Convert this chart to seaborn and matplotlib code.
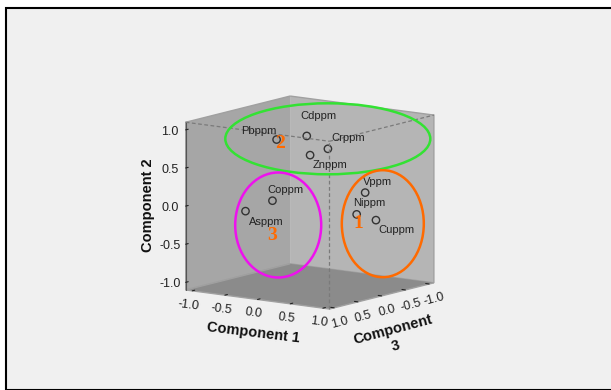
import numpy as np
import pandas as pd
import matplotlib
matplotlib.use("Agg")
import matplotlib.pyplot as plt
import seaborn as sns
from matplotlib.patches import Ellipse, Rectangle
from matplotlib.ticker import FixedLocator, FormatStrFormatter
from mpl_toolkits.mplot3d import proj3d

# component loadings (estimated)
variables = ['Pbppm', 'Cdppm', 'Crppm', 'Znppm', 'Coppm', 'Asppm', 'Vppm', 'Nippm', 'Cuppm']
comp1 = [-0.29, -0.01, 0.35, 0.15, 0.01, -0.33, 0.92, 0.79, 0.94]
comp2 = [0.84, 0.88, 0.76, 0.67, 0.15, -0.01, 0.25, -0.05, -0.14]
comp3 = [0.30, 0.05, 0.10, 0.20, 0.80, 0.90, 0.10, 0.10, -0.10]
group_names = ['1', '2', '3']

df = pd.DataFrame({'var': variables, 'c1': comp1, 'c2': comp2, 'c3': comp3})

# label offsets in pixels (dx right, dy up)
label_offset = {
    'Pbppm': (-18, 9), 'Cdppm': (12, 20), 'Crppm': (20, 11), 'Znppm': (20, -10),
    'Coppm': (13, 11), 'Asppm': (21, -11), 'Vppm': (12, 11), 'Nippm': (13, 11),
    'Cuppm': (20, -10),
}

sns.set_style("white")
plt.rcParams['font.family'] = ['Liberation Sans', 'DejaVu Sans']
plt.rcParams['axes.unicode_minus'] = False

W, H = 611, 390
fig = plt.figure(figsize=(W / 100, H / 100), dpi=100, facecolor='white')
# grey chart area with black frame on top/left
fig.add_artist(Rectangle((6 / W, 0), 1, 1 - 8 / H, transform=fig.transFigure,
                         facecolor='#f0f0f0', edgecolor='black', lw=1.5, zorder=-10))

size = 0.756
ax = fig.add_axes([0.5005 - size / 2, 0.4705 - size / 2, size, size], projection='3d')
ax.patch.set_alpha(0)
ax.set_proj_type('ortho')
ax.view_init(elev=10.5, azim=36)
ax.set_box_aspect((1, 1, 0.96))

lim = (-1.1, 1.1)
ax.set_xlim(lim)
ax.set_ylim(lim)
ax.set_zlim(lim)

ax.xaxis.set_pane_color('#b5b5b5')
ax.yaxis.set_pane_color('#a6a6a6')
ax.zaxis.set_pane_color('#8b8b8b')
for a in (ax.xaxis, ax.yaxis, ax.zaxis):
    a.pane.set_edgecolor('#a0a0a0')
    a.set_major_locator(FixedLocator([-1.0, -0.5, 0.0, 0.5, 1.0]))
    a.set_major_formatter(FormatStrFormatter('%.1f'))
    a._axinfo['tick']['inward_factor'] = 0.0
    a._axinfo['tick']['outward_factor'] = 0.3
ax.xaxis.line.set_color((0, 0, 0, 0))
ax.yaxis.line.set_color((0, 0, 0, 0))
ax.zaxis.line.set_color('#555555')
ax.grid(False)
ax.tick_params(labelsize=9, colors='#222222')
ax.tick_params(axis='x', pad=-4, labelrotation=15)
ax.tick_params(axis='y', pad=-4, labelrotation=-7)
ax.tick_params(axis='z', pad=-1)

# dashed front edges of the box
dash = dict(color='#7a7a7a', ls=(0, (3, 2)), lw=0.9)
ax.plot([lim[1], lim[1]], [lim[0], lim[1]], [lim[1], lim[1]], **dash)
ax.plot([lim[1], lim[0]], [lim[1], lim[1]], [lim[1], lim[1]], **dash)
ax.plot([lim[1], lim[1]], [lim[1], lim[1]], [lim[0], lim[1]], **dash)

ax.scatter(df['c3'], df['c1'], df['c2'], s=28, facecolors='none',
           edgecolors='#333333', linewidths=1.0, depthshade=False)

fig.canvas.draw()
# vertical axis tick labels sit level with their ticks in the original
for t in ax.zaxis.get_major_ticks():
    t.label1.set_va('center_baseline')

proj = ax.get_proj()
for _, r in df.iterrows():
    px, py, _ = proj3d.proj_transform(r['c3'], r['c1'], r['c2'], proj)
    dx, dy = label_offset[r['var']]
    ax.annotate(r['var'], (px, py), xytext=(dx, dy), textcoords='offset pixels',
                ha='center', va='center', fontsize=8, color='#222222')

# axis titles placed as in the SPSS output (figure pixels, y from top)
title_kw = dict(fontsize=10.5, fontweight='bold', color='#111111', ha='center', va='center')
fig.text(148 / W, 1 - 205 / H, 'Component 2', rotation=90, **title_kw)
fig.text(253 / W, 1 - 333 / H, 'Component 1', rotation=-7, **title_kw)
fig.text(393 / W, 1 - 330 / H, 'Component', rotation=15, **title_kw)
fig.text(396 / W, 1 - 346 / H, '3', rotation=15, **title_kw)

# hand-drawn group ellipses and numbers
ellipses = [
    (327.8, 138.8, 205, 71, '#33e233'),
    (278.2, 225.0, 86, 105, '#ee11ee'),
    (382.8, 223.7, 82, 107, '#ff6a00'),
]
for cx, cy, w, h, col in ellipses:
    fig.add_artist(Ellipse((cx / W, 1 - cy / H), w / W, h / H, transform=fig.transFigure,
                           facecolor='none', edgecolor=col, lw=1.8))
number_pos = {'1': (358.3, 223.3), '2': (280, 143.3), '3': (271.7, 235)}
for g in group_names:
    x, y = number_pos[g]
    fig.text(x / W, 1 - y / H, g, ha='center', va='center', fontsize=14,
             fontweight='bold', color='#ff6a00', family='Liberation Serif')

fig.savefig('out.png', dpi=100)
